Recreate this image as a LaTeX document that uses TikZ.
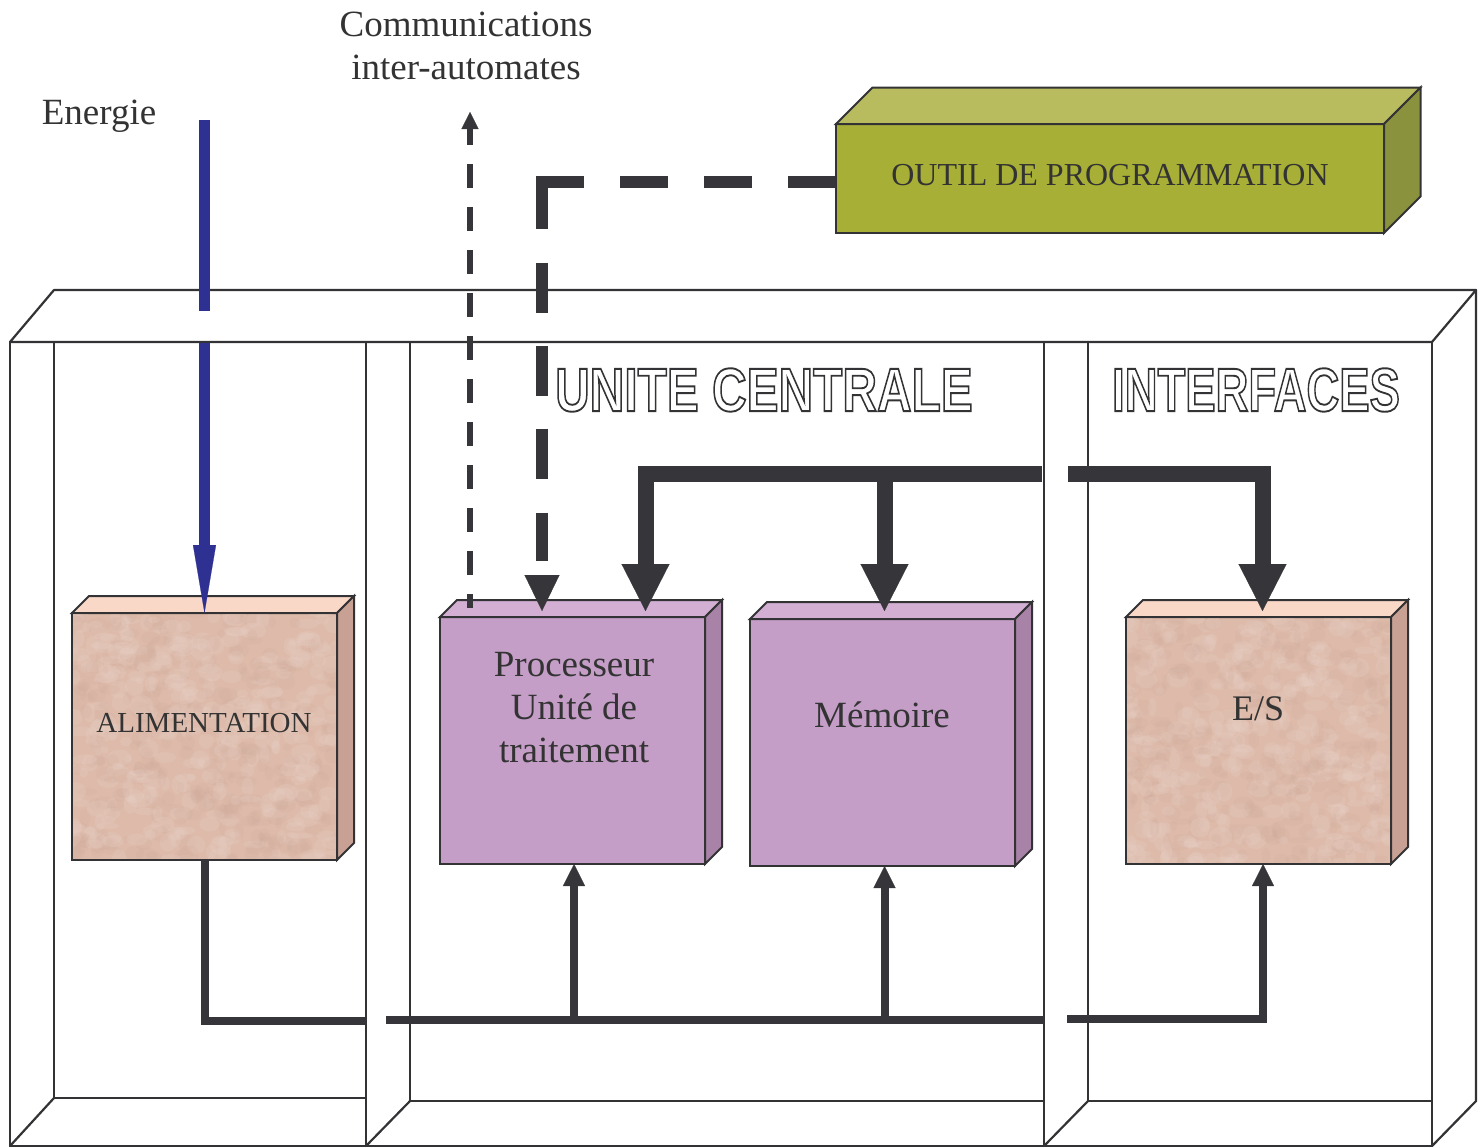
\documentclass[tikz,border=0pt]{standalone}
\usepackage{fontspec}
\setmainfont{Liberation Serif}
\newfontfamily\titlefont{Liberation Sans}
\usetikzlibrary{arrows.meta}

\definecolor{edge}{HTML}{333336}
\definecolor{ink}{HTML}{333333}
\definecolor{busdark}{HTML}{363539}
\definecolor{energyblue}{HTML}{2E3192}
\definecolor{pinkfront}{HTML}{DDBAAA}
\definecolor{pinklight}{HTML}{EAD3C8}
\definecolor{pinkdeep}{HTML}{CFA999}
\definecolor{pinktop}{HTML}{FAD8C8}
\definecolor{pinkside}{HTML}{C9A194}
\definecolor{plumfront}{HTML}{C59EC8}
\definecolor{plumtop}{HTML}{D3AFD4}
\definecolor{plumside}{HTML}{A883A7}
\definecolor{olivefront}{HTML}{A8AF36}
\definecolor{olivetop}{HTML}{B8BC5E}
\definecolor{oliveside}{HTML}{8B923D}

\tikzset{
  rack/.style={draw=edge, line width=1.1pt, line cap=round, line join=round},
  blockface/.style={draw=edge, line width=1pt, line join=miter},
  blocktext/.style={text=ink, inner sep=0pt, font=\fontsize{18.5}{21.5}\selectfont, align=center},
  hollow/.style={inner sep=0pt, text=edge, font=\titlefont\bfseries\fontsize{30.7}{31}\selectfont},
  mainbus/.style={draw=busdark, line width=8pt, line join=miter,
    -{Triangle[width=24pt,length=23.5pt,line width=0.1pt]}},
  powerbus/.style={draw=busdark, line width=4pt, line join=miter},
  powerfeed/.style={powerbus, -{Triangle[width=11pt,length=11pt,line width=0.1pt]}},
  progline/.style={draw=busdark, line width=6pt, line join=miter,
    dash pattern={on 24pt off 18pt on 24pt off 18pt on 24pt off 18pt on 44.5pt off 17pt
      on 25pt off 16.5pt on 25pt off 16.5pt on 25pt off 17pt on 24pt off 60pt},
    -{Triangle[width=17.5pt,length=18pt,line width=0.1pt]}},
  commline/.style={draw=busdark, line width=3.25pt, dash pattern=on 12pt off 9.5pt, dash phase=4pt,
    {Triangle[width=8.5pt,length=8.5pt,line width=0.1pt]}-},
  energy/.style={draw=energyblue, line width=5.5pt},
}

% solid block seen in perspective: front face node plus top and right faces
\newcommand\solidblock[9]{%
  \node[fill=#7, minimum width=#4*0.5pt, minimum height=#5*0.5pt, inner sep=0pt, outer sep=0pt] (#1) at (#2,#3) {};
  \filldraw[blockface, fill=#8] (#1.north west) -- ++(#6,-#6) -- ([shift={(#6,-#6)}]#1.north east) -- (#1.north east) -- cycle;
  \filldraw[blockface, fill=#9] (#1.north east) -- ++(#6,-#6) -- ([shift={(#6,-#6)}]#1.south east) -- (#1.south east) -- cycle;
}
\newcommand\blockborder[1]{\draw[blockface] (#1.south west) rectangle (#1.north east);}

% mottled stone texture inside a front face
\newcommand\mottle[1]{%
  \begin{scope}
    \clip (#1.south west) rectangle (#1.north east);
    \foreach \k in {1,...,320}{
      \fill[pinklight, opacity=0.22] ([shift={({265*rnd},{247*rnd})}]#1.north west) ellipse[x radius={4+9*rnd}, y radius={3+7*rnd}];
      \fill[pinkdeep, opacity=0.16] ([shift={({265*rnd},{247*rnd})}]#1.north west) ellipse[x radius={3+8*rnd}, y radius={3+6*rnd}];
    }
  \end{scope}
}

% outlined heading: glyphs stroked, not filled
\newcommand\strokedglyphs[1]{\special{pdf:literal direct 1 Tr 0.95 w}#1\special{pdf:literal direct 0 Tr}}

\begin{document}
\begin{tikzpicture}[x=0.5pt, y=-0.5pt]
\pgfmathsetseed{11}
\useasboundingbox (0,0) rectangle (1481,1147);

% ---- rack with three bays ----
\draw[rack] (10,342) -- (54,290) -- (1476,290) -- (1432,342) -- cycle;
\draw[rack] (10,342) -- (10,1146) -- (1432,1146) -- (1432,342);
\draw[rack] (1476,290) -- (1476,1101) -- (1432,1146);
\draw[rack] (54,342) -- (54,1098) -- (366,1098);
\draw[rack] (10,1146) -- (54,1098);
\draw[rack] (366,342) -- (366,1146);
\draw[rack] (410,342) -- (410,1101) -- (1044,1101);
\draw[rack] (366,1146) -- (410,1101);
\draw[rack] (1044,342) -- (1044,1146);
\draw[rack] (1088,342) -- (1088,1101) -- (1432,1101);
\draw[rack] (1044,1146) -- (1088,1101);

% ---- blocks ----
\solidblock{outil}{1110}{178.5}{548}{109}{36.5}{olivefront}{olivetop}{oliveside}
\blockborder{outil}
\solidblock{alim}{204.5}{736.5}{265}{247}{17}{pinkfront}{pinktop}{pinkside}
\mottle{alim}
\blockborder{alim}
\solidblock{proc}{572.5}{740.5}{265}{247}{17}{plumfront}{plumtop}{plumside}
\blockborder{proc}
\solidblock{mem}{882.5}{742.5}{265}{247}{17}{plumfront}{plumtop}{plumside}
\blockborder{mem}
\solidblock{es}{1258.5}{740.5}{265}{247}{17}{pinkfront}{pinktop}{pinkside}
\mottle{es}
\blockborder{es}

% ---- texts ----
\node[blocktext, font=\fontsize{16}{19}\selectfont] (outiltxt) at (1110,175) {OUTIL DE PROGRAMMATION};
\node[blocktext, font=\fontsize{14.5}{17}\selectfont] (alimtxt) at (204,723) {ALIMENTATION};
\node[blocktext] (proctxt) at (574,708) {Processeur\\Unité de\\traitement};
\node[blocktext, anchor=base] (memtxt) at (882,727) {Mémoire};
\node[blocktext, anchor=base, font=\fontsize{18}{21}\selectfont] (estxt) at (1258,720) {E/S};
\node[blocktext, anchor=base] (energytxt) at (99,124) {Energie};
\node[blocktext] (commtxt) at (466,46) {Communications\\inter-automates};

\node[hollow, xscale=0.78] (uctitle) at (764,390) {\strokedglyphs{UNITE CENTRALE}};
\node[hollow, xscale=0.74] (iftitle) at (1256,390) {\strokedglyphs{INTERFACES}};

% ---- connection points ----
\coordinate (energysrc) at (204.5,120);
\coordinate (energybreak) at (204.5,311);
\coordinate (energyresume) at (204.5,343);
\coordinate (commtip) at (470,112);
\coordinate (procport) at (470,608);
\coordinate (progcorner) at (542,181.5);
\coordinate (procload) at (542,611);
\coordinate (busleft) at (1042,473.5);
\coordinate (busright) at (1068,473.5);
\coordinate (procfeed) at (645.5,611);
\coordinate (memfeed) at (884.5,611);
\coordinate (esfeed) at (1262.5,611);
\coordinate (lowleft) at (366,1021);
\coordinate (lowstart) at (386,1020);
\coordinate (lowend) at (1044,1020);
\coordinate (lowright) at (1067,1018.5);
\coordinate (procbase) at ([xshift=0.75pt]proc.south);
\coordinate (membase) at ([xshift=1pt]mem.south);
\coordinate (esbase) at ([xshift=2.25pt]es.south);

% ---- energy supply ----
\draw[energy] (energysrc) -- (energybreak);
\draw[energy, -{Triangle[width=11.5pt,length=34pt,line width=0.1pt]}] (energyresume) -- (alim.north);

% ---- inter-PLC link and programming tool ----
\draw[commline] (commtip) -- (procport);
\draw[progline] ([yshift=-1.5pt]outil.west) -- (progcorner) -- (procload);

% ---- internal bus ----
\draw[mainbus] (busleft) -| (procfeed);
\draw[mainbus] (memfeed |- busleft) -- (memfeed);
\draw[mainbus] (busright) -| (esfeed);

% ---- power distribution ----
\draw[powerbus] (alim.south) |- (lowleft);
\draw[powerbus] (lowstart) -- (lowend);
\draw[powerfeed] (procbase |- lowstart) -- (procbase);
\draw[powerfeed] (membase |- lowstart) -- (membase);
\draw[powerfeed] (lowright) -| (esbase);
\end{tikzpicture}
\end{document}
